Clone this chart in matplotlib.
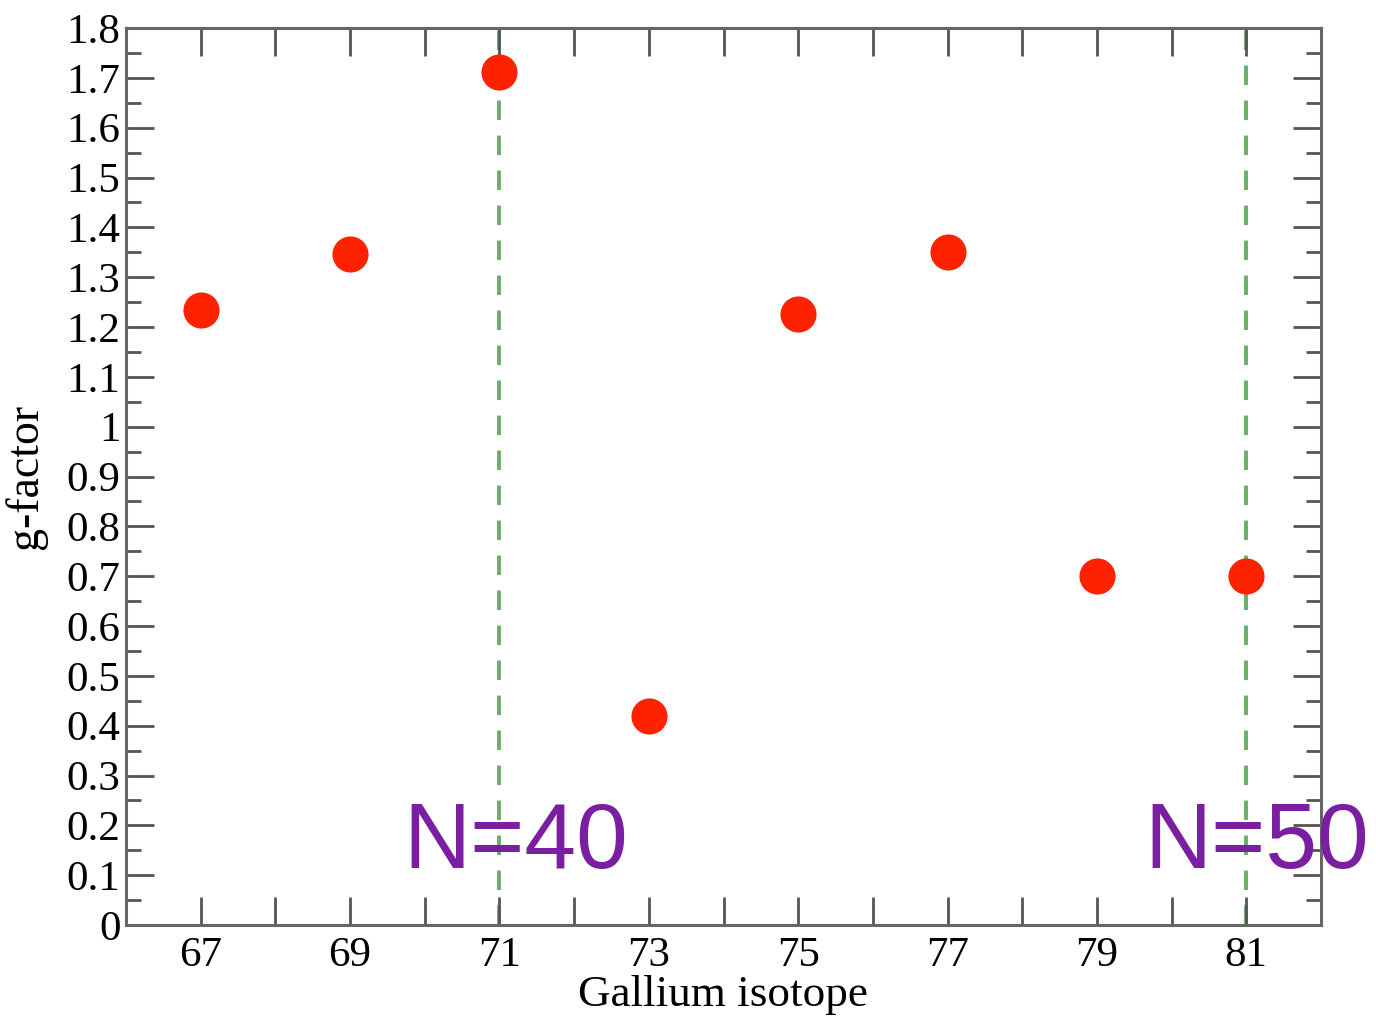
import matplotlib
matplotlib.use("Agg")
import matplotlib.pyplot as plt
from matplotlib.ticker import MultipleLocator

isotopes = [67, 69, 71, 73, 75, 77, 79, 81]
gfactor = [1.235, 1.347, 1.711, 0.42, 1.227, 1.351, 0.701, 0.701]
shells = [71, 81]
shell_labels = ["N=40", "N=50"]

plt.rcParams['font.family'] = ['Liberation Serif', 'DejaVu Serif']

fig = plt.figure(figsize=(13.76, 10.16), dpi=100)
ax = fig.add_axes([126/1376, 1-925/1016, (1321-126)/1376, (925-28)/1016])

for x in shells:
    ax.axvline(x, color='#4fa04f', ls=(0, (5, 4)), lw=2.8, alpha=0.85, zorder=1)

ax.plot(isotopes, gfactor, 'o', color='#ff2200', ms=26, mec='none', zorder=3)

ax.set_xlim(66, 82)
ax.set_ylim(0, 1.8)
ax.xaxis.set_minor_locator(MultipleLocator(1))
ax.set_xticks(range(67, 82, 2))
ax.yaxis.set_minor_locator(MultipleLocator(0.05))
ax.set_yticks([i / 10 for i in range(19)])
ax.set_yticklabels(['%g' % (i / 10) for i in range(19)])

ax.tick_params(which='both', direction='in', top=True, right=True, color='#555555', width=2, labelsize=31, pad=4)
ax.tick_params(which='major', length=20)
ax.tick_params(which='minor', length=11)
ax.tick_params(axis='x', which='minor', length=20)
ax.tick_params(axis='x', pad=8)
for s in ax.spines.values():
    s.set_color('#666666')
    s.set_linewidth(2.2)

ax.set_xlabel('Gallium isotope', fontsize=32.5, labelpad=0)
ax.set_ylabel('g-factor', fontsize=33)
ax.yaxis.set_label_coords(-0.066, 0.5)

for x, lab, dx in zip(shells, shell_labels, [-1.29, -1.36]):
    ax.text(x + dx, 0.115, lab, color='#7b1fa2', fontsize=67,
            family=['Liberation Sans', 'DejaVu Sans'], va='baseline', ha='left', clip_on=False)

fig.savefig('out.png', dpi=100)
